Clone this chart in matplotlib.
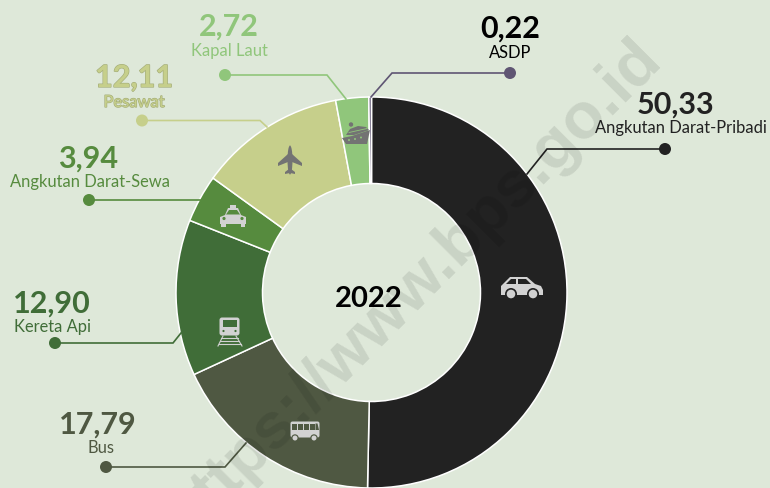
import matplotlib
matplotlib.use("Agg")
import matplotlib.pyplot as plt
import matplotlib.patheffects as pe
from matplotlib.patches import Circle, Polygon, Rectangle, FancyBboxPatch, Ellipse

# data, in clockwise order from the top
categories = ["Angkutan Darat-Pribadi", "Bus", "Kereta Api", "Angkutan Darat-Sewa",
              "Pesawat", "Kapal Laut", "ASDP"]
shares = [50.33, 17.79, 12.90, 3.94, 12.11, 2.72, 0.22]
year_label = "2022"

# styles
BG = "#DEE8D9"
colors = ["#222222", "#4F5842", "#406D38", "#568B3E", "#C6CF8B", "#90C67B", "#5F5573"]
text_colors = ["#222222", "#4F5842", "#406D38", "#568B3E", "#C6CF8B", "#90C67B", "#000000"]
ICON_LIGHT = "#D2D2D2"
ICON_DARK = "#737373"

# layout in pixels (y goes down): value text, label text, leader line points
value_pos = [(675, 105), (98, 425), (52, 304), (88, 159), (134, 79), (229, 27), (510, 29)]
label_pos = [(681, 128), (101, 448), (53, 327), (90, 182), (134, 103), (229, 51), (510, 53)]
leaders = [
    [(665, 150), (547, 150), (527, 175)],
    [(106, 468), (225, 468), (246, 444)],
    [(55, 344), (173, 344), (181, 334)],
    [(89, 201), (200, 201)],
    [(142, 121.5), (260, 121.5), (267, 128)],
    [(225, 76), (327, 76), (346, 100)],
    [(510, 74), (392, 74), (371, 98)],
]

CX, CY = 371.5, 293.5
R_OUT, R_IN = 195.5, 109

plt.rcParams["font.family"] = ["Lato", "DejaVu Sans"]

fig = plt.figure(figsize=(7.7, 4.89), dpi=100, facecolor=BG)
ax = fig.add_axes([0, 0, 1, 1])

# y axis is flipped so everything is in picture pixels; start at -90 is the top
ax.pie(shares, colors=colors, startangle=-90, counterclock=True, center=(CX, CY),
       radius=R_OUT, frame=True,
       wedgeprops=dict(width=R_OUT - R_IN, edgecolor="white", linewidth=1.1))
ax.set_xlim(0, 770)
ax.set_ylim(489, 0)
ax.set_aspect("auto")
ax.axis("off")

# leader lines and their dots
for pts, c in zip(leaders, colors):
    xs = [p[0] for p in pts]
    ys = [p[1] for p in pts]
    ax.plot(xs, ys, color=c, lw=1.2, solid_joinstyle="miter", zorder=4)
    ax.add_patch(Circle(pts[0], 6, color=c, lw=0, zorder=4))

# value + category text
for i, name in enumerate(categories):
    value = f"{shares[i]:.2f}".replace(".", ",")
    fx = []
    if name == "Pesawat":
        fx = [pe.withStroke(linewidth=0.9, foreground="#A4AD78")]
    ax.text(*value_pos[i], value, color=text_colors[i], fontsize=22, fontweight="bold",
            ha="center", va="center", path_effects=fx, zorder=5)
    ax.text(*label_pos[i], name, color=text_colors[i], fontsize=11.9,
            ha="center", va="center", path_effects=fx, zorder=5)

ax.text(369, 299, year_label, color="black", fontsize=21, fontweight="bold",
        ha="center", va="center", zorder=5)

# watermark
ax.text(413, 287, "https://www.bps.go.id", color="black", alpha=0.095, fontsize=47,
        fontweight="bold", family="Liberation Sans", rotation=45,
        rotation_mode="anchor", ha="center", va="center", zorder=6)


# icons
def poly(pts, c, z=7):
    ax.add_patch(Polygon(pts, closed=True, facecolor=c, edgecolor="none", zorder=z))


def disc(x, y, r, c, z=8):
    ax.add_patch(Circle((x, y), r, facecolor=c, edgecolor="none", zorder=z))


def box(x, y, w, h, c, z=7):
    ax.add_patch(Rectangle((x, y), w, h, facecolor=c, edgecolor="none", zorder=z))


def draw_car():
    dark = colors[0]
    poly([(501, 296), (501, 287), (504, 284), (510, 278), (527, 278), (535, 285),
          (541, 287), (543, 291), (543, 296)], ICON_LIGHT)
    poly([(506, 285), (511, 280), (516, 280), (516, 285)], dark, 8)
    poly([(518, 280), (526, 280), (531, 285), (518, 285)], dark, 8)
    for x in (511, 533):
        disc(x, 295, 6, dark)
        disc(x, 295, 4.3, ICON_LIGHT, 9)


def draw_bus():
    dark = colors[1]
    ax.add_patch(FancyBboxPatch((291, 423), 28, 15, boxstyle="round,pad=0.5,rounding_size=2",
                                facecolor=ICON_LIGHT, edgecolor="none", zorder=7))
    for x in (292, 298, 304, 310):
        box(x, 424.5, 4.5, 6.5, dark, 8)
    poly([(315.5, 424.5), (317.5, 424.5), (319, 431), (315.5, 431)], dark, 8)
    for x in (295, 314):
        disc(x, 439, 3.7, dark)
        disc(x, 439, 2.5, ICON_LIGHT, 9)


def draw_train():
    dark = colors[2]
    ax.add_patch(FancyBboxPatch((220, 319), 19, 17, boxstyle="round,pad=0.5,rounding_size=2.5",
                                facecolor=ICON_LIGHT, edgecolor="none", zorder=7))
    box(222.5, 321, 14, 6.5, dark, 8)
    disc(223.5, 332, 1.1, dark)
    disc(235.5, 332, 1.1, dark)
    ax.plot([223, 218], [337, 347], color=ICON_LIGHT, lw=0.8, zorder=7)
    ax.plot([236, 242], [337, 347], color=ICON_LIGHT, lw=0.8, zorder=7)
    for y, x0, x1 in [(339, 221, 238), (342, 220, 239), (345, 219, 241)]:
        ax.plot([x0, x1], [y, y], color=ICON_LIGHT, lw=0.8, zorder=7)


def draw_taxi():
    dark = colors[3]
    box(230, 206, 6, 3, ICON_LIGHT)
    poly([(220, 225), (220, 218), (225, 216), (228, 209), (238, 209), (241, 216),
          (246, 218), (246, 225)], ICON_LIGHT)
    poly([(226, 215.5), (229, 211), (237, 211), (240, 215.5)], dark, 8)
    disc(224, 219.5, 1.6, dark)
    disc(242, 219.5, 1.6, dark)
    box(221, 225, 4.5, 3, ICON_LIGHT)
    box(240.5, 225, 4.5, 3, ICON_LIGHT)


def draw_plane():
    ax.add_patch(Ellipse((290, 161), 5, 29, facecolor=ICON_DARK, edgecolor="none", zorder=7))
    poly([(288, 155), (278, 164), (278, 167), (288, 163), (292, 163), (302, 167),
          (302, 164), (292, 155)], ICON_DARK)
    poly([(289, 170), (285, 173), (285, 175), (290, 174), (295, 175), (295, 173),
          (291, 170)], ICON_DARK)


def draw_ship():
    dark = ICON_DARK
    poly([(342, 139), (352, 137), (370, 131), (367, 145), (346, 145)], dark)
    poly([(346, 136), (350, 130), (358, 127), (366, 128), (369, 131), (354, 136)], dark)
    ax.plot([349, 367], [133.5, 129.5], color=colors[5], lw=0.6, zorder=8)
    disc(351, 125.5, 2.2, dark, 7)
    for x, y in [(349, 141), (355, 140), (361, 138.5)]:
        disc(x, y, 1, colors[5])


draw_car()
draw_bus()
draw_train()
draw_taxi()
draw_plane()
draw_ship()

fig.savefig("out.png", dpi=100, facecolor=BG)
